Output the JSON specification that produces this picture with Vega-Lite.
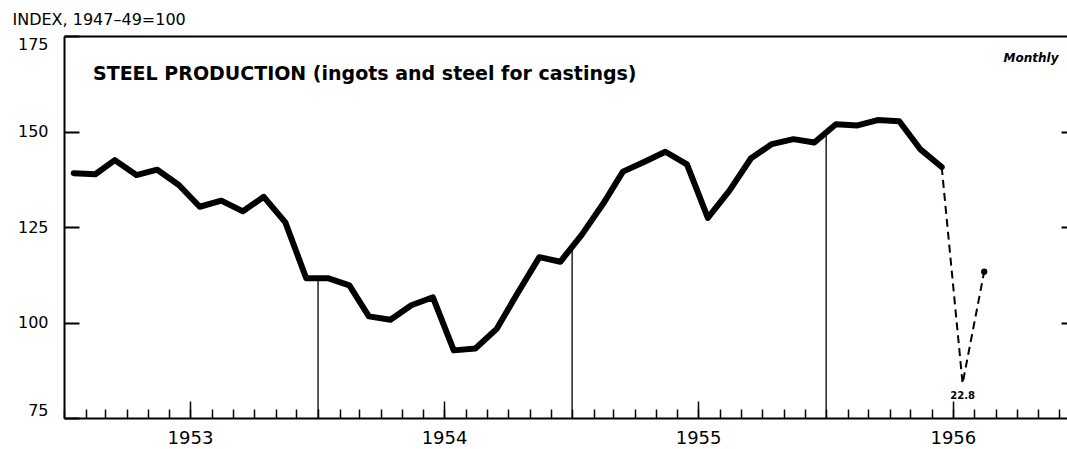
{
  "$schema": "https://vega.github.io/schema/vega-lite/v6.json",
  "width": 1003,
  "height": 382,
  "autosize": {"type": "none"},
  "padding": {"left": 64, "top": 36, "right": 0, "bottom": 31},
  "background": "white",
  "config": {
    "view": {"stroke": null},
    "font": "DejaVu Sans",
    "axis": {"domainColor": "black", "tickColor": "black", "labelColor": "black", "titleColor": "black", "grid": false}
  },
  "title": {
    "text": "STEEL PRODUCTION (ingots and steel for castings)",
    "anchor": "start",
    "frame": "group",
    "orient": "top",
    "offset": -82,
    "dx": 29,
    "baseline": "middle",
    "font": "DejaVu Sans",
    "fontSize": 19,
    "fontWeight": "bold",
    "color": "black"
  },
  "datasets": {
    "steel": [
      {"date": "1953-01-15", "index": 139.1},
      {"date": "1953-02-15", "index": 138.8},
      {"date": "1953-03-15", "index": 142.5},
      {"date": "1953-04-15", "index": 138.6},
      {"date": "1953-05-15", "index": 140.0},
      {"date": "1953-06-15", "index": 136.0},
      {"date": "1953-07-15", "index": 130.3},
      {"date": "1953-08-15", "index": 131.9},
      {"date": "1953-09-15", "index": 129.1},
      {"date": "1953-10-15", "index": 132.9},
      {"date": "1953-11-15", "index": 126.2},
      {"date": "1953-12-15", "index": 111.6},
      {"date": "1954-01-15", "index": 111.6},
      {"date": "1954-02-15", "index": 109.7},
      {"date": "1954-03-15", "index": 101.6},
      {"date": "1954-04-15", "index": 100.7},
      {"date": "1954-05-15", "index": 104.5},
      {"date": "1954-06-15", "index": 106.6},
      {"date": "1954-07-15", "index": 92.7},
      {"date": "1954-08-15", "index": 93.2},
      {"date": "1954-09-15", "index": 98.4},
      {"date": "1954-10-15", "index": 107.8},
      {"date": "1954-11-15", "index": 117.1},
      {"date": "1954-12-15", "index": 115.9},
      {"date": "1955-01-15", "index": 123.0},
      {"date": "1955-02-15", "index": 131.2},
      {"date": "1955-03-15", "index": 139.5},
      {"date": "1955-04-15", "index": 142.1},
      {"date": "1955-05-15", "index": 144.7},
      {"date": "1955-06-15", "index": 141.4},
      {"date": "1955-07-15", "index": 127.4},
      {"date": "1955-08-15", "index": 134.5},
      {"date": "1955-09-15", "index": 143.0},
      {"date": "1955-10-15", "index": 146.7},
      {"date": "1955-11-15", "index": 148.0},
      {"date": "1955-12-15", "index": 147.1},
      {"date": "1956-01-15", "index": 151.9},
      {"date": "1956-02-15", "index": 151.6},
      {"date": "1956-03-15", "index": 153.0},
      {"date": "1956-04-15", "index": 152.7},
      {"date": "1956-05-15", "index": 145.4},
      {"date": "1956-06-15", "index": 140.7}
    ],
    "strike": [
      {"date": "1956-06-15", "index": 140.7, "shown": 140.7},
      {"date": "1956-07-15", "index": 22.8, "shown": 84},
      {"date": "1956-08-15", "index": 113.3, "shown": 113.3}
    ],
    "years": [
      {"date": "1954-01-01", "top": 111.6},
      {"date": "1955-01-01", "top": 119.5},
      {"date": "1956-01-01", "top": 149.5}
    ]
  },
  "resolve": {"axis": {"x": "independent", "y": "independent"}},
  "layer": [
    {
      "data": {"name": "years"},
      "mark": {"type": "rule", "color": "black", "strokeWidth": 1.3},
      "encoding": {
        "x": {
          "field": "date", "type": "temporal",
          "scale": {"type": "utc", "domain": [{"year": 1953, "month": 1, "date": 1, "utc": true}, {"year": 1956, "month": 12, "date": 12, "utc": true}]},
          "axis": {"orient": "bottom", "tickCount": {"interval": "month", "step": 1}, "tickSize": -9, "tickWidth": 1.5, "labels": false, "domain": true, "domainWidth": 2, "title": null}
        },
        "y": {
          "field": "top", "type": "quantitative",
          "scale": {"domain": [75, 175], "nice": false, "zero": false},
          "axis": {"orient": "left", "values": [75, 100, 125, 150, 175], "tickSize": -15, "tickWidth": 2, "labelPadding": 31, "labelFlush": true, "labelFontSize": 16, "labelFont": "DejaVu Sans", "domainWidth": 2,
            "title": "INDEX, 1947–49=100", "titleAngle": 0, "titleAlign": "left", "titleBaseline": "middle", "titleX": -52, "titleY": -17, "titleFontSize": 16, "titleFontWeight": "normal"}
        },
        "y2": {"datum": 75}
      }
    },
    {
      "data": {"name": "steel"},
      "mark": {"type": "line", "color": "black", "strokeWidth": 6, "strokeJoin": "round", "strokeCap": "round"},
      "encoding": {
        "x": {
          "field": "date", "type": "temporal",
          "scale": {"type": "utc", "domain": [{"year": 1953, "month": 1, "date": 1, "utc": true}, {"year": 1956, "month": 12, "date": 12, "utc": true}]},
          "axis": {"orient": "bottom", "values": [{"year": 1953, "month": 7, "date": 1, "utc": true}, {"year": 1954, "month": 7, "date": 1, "utc": true}, {"year": 1955, "month": 7, "date": 1, "utc": true}, {"year": 1956, "month": 7, "date": 1, "utc": true}],
            "tickSize": -17, "tickWidth": 1.5, "domain": false, "labelExpr": "utcFormat(datum.value, '%Y')", "labelPadding": 28, "labelFontSize": 18, "labelFont": "DejaVu Sans", "title": null}
        },
        "y": {
          "field": "index", "type": "quantitative",
          "scale": {"domain": [75, 175], "nice": false, "zero": false},
          "axis": {"orient": "right", "values": [100, 125, 150], "tickSize": -6, "tickWidth": 2, "labels": false, "domain": false,
            "title": "Monthly", "titleAngle": 0, "titleAlign": "right", "titleBaseline": "middle", "titleX": -9, "titleY": 21, "titleFontSize": 12, "titleFontStyle": "italic", "titleFontWeight": "bold"}
        }
      }
    },
    {
      "data": {"name": "strike"},
      "mark": {"type": "line", "color": "black", "strokeWidth": 2, "strokeDash": [8, 5]},
      "encoding": {
        "x": {
          "field": "date", "type": "temporal",
          "scale": {"type": "utc", "domain": [{"year": 1953, "month": 1, "date": 1, "utc": true}, {"year": 1956, "month": 12, "date": 12, "utc": true}]},
          "axis": {"orient": "top", "ticks": false, "labels": false, "domain": true, "domainWidth": 2, "title": null}
        },
        "y": {"field": "shown", "type": "quantitative", "scale": {"domain": [75, 175], "nice": false, "zero": false}, "axis": null}
      }
    },
    {
      "data": {"name": "strike"},
      "transform": [{"filter": "utcmonth(datum.date) == 7"}],
      "mark": {"type": "circle", "color": "black", "opacity": 1, "size": 40},
      "encoding": {
        "x": {"field": "date", "type": "temporal", "axis": null},
        "y": {"field": "shown", "type": "quantitative", "axis": null}
      }
    },
    {
      "data": {"name": "strike"},
      "transform": [{"filter": "datum.index < 75"}],
      "mark": {"type": "text", "color": "black", "font": "DejaVu Sans", "fontSize": 10, "fontWeight": "bold", "dy": 12, "baseline": "middle"},
      "encoding": {
        "x": {"field": "date", "type": "temporal", "axis": null},
        "y": {"field": "shown", "type": "quantitative", "axis": null},
        "text": {"field": "index", "type": "quantitative", "format": ".1f"}
      }
    }
  ]
}
